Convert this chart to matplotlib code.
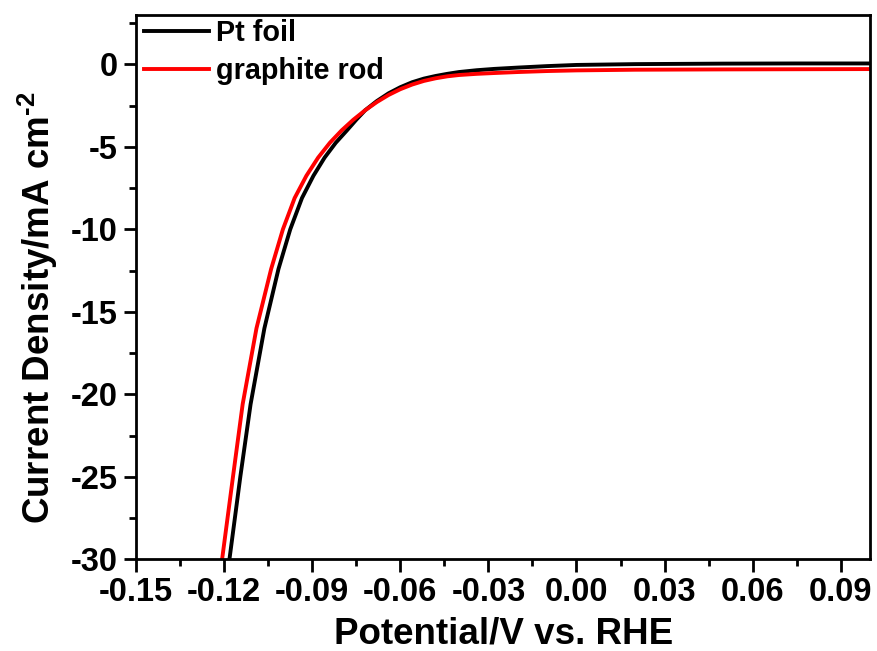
import matplotlib
matplotlib.use('Agg')
import matplotlib.pyplot as plt
from matplotlib.ticker import MultipleLocator

plt.rcParams['font.family'] = ['Liberation Sans', 'DejaVu Sans']
plt.rcParams['font.weight'] = 'bold'
plt.rcParams['mathtext.fontset'] = 'custom'
plt.rcParams['mathtext.rm'] = 'Liberation Sans:bold'
plt.rcParams['mathtext.bf'] = 'Liberation Sans:bold'

# 数据
pt_potential = [-0.1182, -0.1145, -0.1110, -0.1063, -0.1015, -0.0975, -0.0935,
                -0.0896, -0.0858, -0.0820, -0.0782, -0.0750, -0.0720, -0.0680,
                -0.0640, -0.0600, -0.0560, -0.0520, -0.0480, -0.0440, -0.0400,
                -0.0340, -0.0280, -0.0200, -0.0100, 0.0000, 0.0200, 0.0500,
                0.0750, 0.1000]
pt_current = [-30.0, -25.0, -20.6, -16.0, -12.4, -10.0, -8.1,
              -6.75, -5.65, -4.75, -4.0, -3.35, -2.78, -2.22,
              -1.75, -1.38, -1.08, -0.86, -0.70, -0.57, -0.46,
              -0.35, -0.27, -0.19, -0.10, -0.03, 0.02, 0.05,
              0.06, 0.06]

gr_potential = [-0.1207, -0.1170, -0.1137, -0.1090, -0.1040, -0.1000, -0.0960,
                -0.0920, -0.0880, -0.0840, -0.0800, -0.0760, -0.0720, -0.0680,
                -0.0640, -0.0600, -0.0560, -0.0520, -0.0480, -0.0440, -0.0400,
                -0.0340, -0.0280, -0.0200, -0.0100, 0.0000, 0.0200, 0.0500,
                0.0750, 0.1000]
gr_current = [-30.0, -25.0, -20.6, -16.0, -12.4, -10.0, -8.1,
              -6.75, -5.65, -4.75, -4.0, -3.35, -2.78, -2.28,
              -1.85, -1.50, -1.22, -1.00, -0.84, -0.72, -0.64,
              -0.57, -0.52, -0.46, -0.40, -0.36, -0.32, -0.30,
              -0.29, -0.28]

fig = plt.figure(figsize=(8.78, 6.51), dpi=100)
ax = fig.add_axes([0.155, 0.141, 0.836, 0.836])

ax.plot(pt_potential, pt_current, color='black', lw=2.8, label='Pt foil')
ax.plot(gr_potential, gr_current, color='#ff0000', lw=2.8, label='graphite rod')

ax.set_xlim(-0.15, 0.10)
ax.set_ylim(-30, 3)
ax.xaxis.set_minor_locator(MultipleLocator(0.015))
ax.yaxis.set_minor_locator(MultipleLocator(2.5))
ax.set_xticks([-0.15, -0.12, -0.09, -0.06, -0.03, 0.00, 0.03, 0.06, 0.09])
ax.set_xticklabels(['-0.15', '-0.12', '-0.09', '-0.06', '-0.03', '0.00',
                    '0.03', '0.06', '0.09'])
ax.set_yticks([0, -5, -10, -15, -20, -25, -30])
ax.set_yticklabels(['0', '-5', '-10', '-15', '-20', '-25', '-30'])

ax.tick_params(which='major', direction='out', length=9, width=2,
               labelsize=23.5, pad=4)
ax.tick_params(which='minor', direction='out', length=5, width=2)
ax.tick_params(top=False, right=False, which='both')
for s in ax.spines.values():
    s.set_linewidth(2)

ax.set_xlabel('Potential/V vs. RHE', fontsize=26.5, fontweight='bold', labelpad=6)
ax.set_ylabel('Current Density/mA cm$^{\\text{-2}}$', fontsize=26.5,
              fontweight='bold')
ax.yaxis.set_label_coords(-0.103, 0.462)

ax.legend(loc='upper left', frameon=False, fontsize=20.7, handlelength=2.25,
          bbox_to_anchor=(0.005, 1.0), borderaxespad=0.1, borderpad=0.05,
          handletextpad=0.25, labelspacing=0.33)

fig.savefig('out.png', dpi=100)
